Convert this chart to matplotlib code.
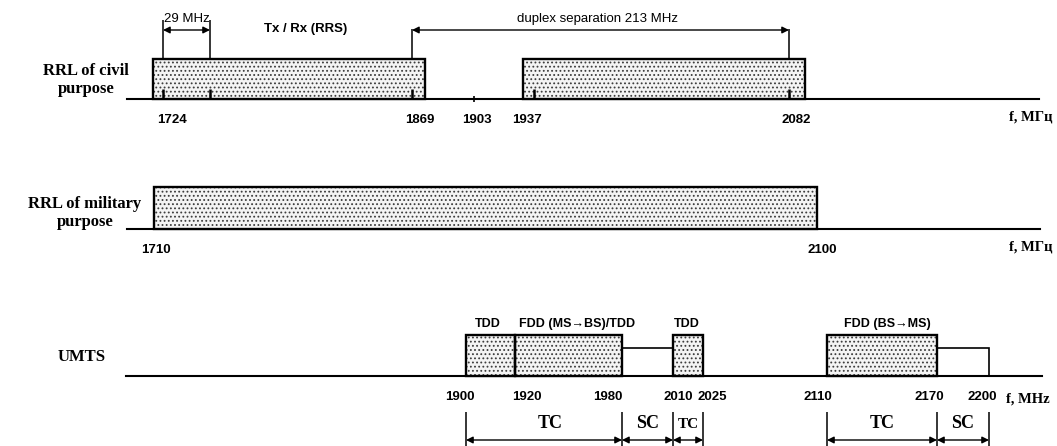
import numpy as np
import matplotlib
matplotlib.use("Agg")
import matplotlib.pyplot as plt

# ---------------- data (MHz) ----------------
civil_band_lo = [1718, 1931]
civil_band_hi = [1876, 2091]
civil_ticks = [1724, 1753, 1869, 1937, 2082]
civil_tick_labels = ["1724", "", "1869", "1937", "2082"]
civil_mark = [1903]
civil_mark_labels = ["1903"]
channel_lo, channel_hi = 1724, 1753            # 29 MHz channel
duplex_lo, duplex_hi = 1869, 2082              # duplex separation 213 MHz
txrx_label_f = 1808

military_band_lo = [1710]
military_band_hi = [2100]
military_ticks = [1710, 2100]

umts_ticks = [1900, 1920, 1980, 2010, 2025, 2110, 2170, 2200]
umts_band_lo = [1900, 1920, 2010, 2110]
umts_band_hi = [1920, 1980, 2025, 2170]
umts_band_names = ["TDD", "FDD (MS→BS)/TDD", "TDD", "FDD (BS→MS)"]
umts_sc_lo = [1980, 2170]
umts_sc_hi = [2010, 2200]
umts_group_lo = [1900, 1980, 2010, 2110, 2170]
umts_group_hi = [1980, 2010, 2025, 2170, 2200]
umts_group_names = ["TC", "SC", "TC", "TC", "SC"]

# ---------------- layout (pixels) ----------------
W, H = 1057, 446
# schematic (non-linear) frequency axes: anchor frequency -> pixel
ROW1_F, ROW1_P = [1724, 1753, 1869, 1903, 1937, 2082], [163, 210, 412, 474, 534, 789]
ROW2_F, ROW2_P = [1710, 2100], [154, 817]
ROW3_F, ROW3_P = umts_ticks, [466, 515, 622, 673, 703, 827, 937, 989]

SANS = ["Liberation Sans", "DejaVu Sans"]
SERIF = ["Liberation Serif", "DejaVu Serif"]
FILL = "#f4f4f4"
DOTS = "#3c3c3c"
plt.rcParams["hatch.linewidth"] = 0.8

fig = plt.figure(figsize=(W / 100, H / 100), dpi=100)
fig.patch.set_facecolor("white")


def make_scale(F, P):
    F = np.asarray(F, float)
    P = np.asarray(P, float)
    s0 = (P[1] - P[0]) / (F[1] - F[0])
    s1 = (P[-1] - P[-2]) / (F[-1] - F[-2])

    def fwd(x):
        x = np.asarray(x, float)
        return np.where(x < F[0], P[0] + (x - F[0]) * s0,
                        np.where(x > F[-1], P[-1] + (x - F[-1]) * s1, np.interp(x, F, P)))

    def inv(p):
        p = np.asarray(p, float)
        return np.where(p < P[0], F[0] + (p - P[0]) / s0,
                        np.where(p > P[-1], F[-1] + (p - P[-1]) / s1, np.interp(p, P, F)))
    return fwd, inv


def row_axes(F, P):
    fwd, inv = make_scale(F, P)
    ax = fig.add_axes([0, 0, 1, 1])
    ax.set_xscale("function", functions=(fwd, inv))
    ax.set_xlim(float(inv(0)), float(inv(W)))
    ax.set_ylim(H, 0)
    ax.axis("off")
    ax.patch.set_visible(False)
    return ax


# overlay in pixel coordinates for layout elements
px = fig.add_axes([0, 0, 1, 1])
px.set_xlim(0, W)
px.set_ylim(H, 0)
px.axis("off")


def band(ax, lo, hi, top, base, filled=True, lw=1.7):
    w = np.asarray(hi) - np.asarray(lo)
    if filled:
        ax.bar(lo, base - top, width=w, bottom=top, align="edge",
               color=FILL, edgecolor=DOTS, linewidth=0, hatch="....", zorder=2)
    ax.bar(lo, base - top, width=w, bottom=top, align="edge",
           facecolor="none", edgecolor="black", linewidth=lw, zorder=3)


def num_label(ax, f, y, text, dx):
    ax.annotate(text, xy=(f, y), xytext=(dx, 0), textcoords="offset pixels",
                ha="center", va="center", fontsize=9.5, fontweight="bold", family=SANS)


def darrow(ax, f1, f2, y, lw=1.0):
    ax.annotate("", xy=(f2, y), xytext=(f1, y),
                arrowprops=dict(arrowstyle="<|-|>", color="black", lw=lw,
                                mutation_scale=10, shrinkA=0, shrinkB=0))


# ---------------- row 1: civil RRL ----------------
B1, T1, L1 = 99, 59, 120
px.plot([127, 1039], [B1, B1], color="black", lw=1.5, zorder=1)
ax1 = row_axes(ROW1_F, ROW1_P)
band(ax1, civil_band_lo, civil_band_hi, T1, B1)
ax1.vlines(civil_ticks, B1 - 10, B1, color="black", lw=1.8, zorder=4)
ax1.vlines(civil_mark, B1 - 3, B1 + 3, color="black", lw=1.2, zorder=4)
for f, t, dx in zip(civil_ticks + civil_mark, civil_tick_labels + civil_mark_labels,
                    [9, 0, 8, -7, 7, 3]):
    if t:
        num_label(ax1, f, L1, t, dx)
# 29 MHz channel
ax1.vlines([channel_lo, channel_hi], 20, T1, color="black", lw=1.1, zorder=4)
darrow(ax1, channel_lo, channel_hi, 30)
ax1.text((channel_lo + channel_hi) / 2, 19, f"{channel_hi - channel_lo} MHz",
         ha="center", va="center", fontsize=9.5, family=SANS,
         bbox=dict(facecolor="white", edgecolor="none", pad=0.2))
ax1.text(txrx_label_f, 29, "Tx / Rx (RRS)", ha="center", va="center",
         fontsize=9.5, fontweight="bold", family=SANS)
# duplex separation
ax1.vlines([duplex_lo, duplex_hi], 29, T1, color="black", lw=1.1, zorder=4)
darrow(ax1, duplex_lo, duplex_hi, 30)
ax1.annotate(f"duplex separation {duplex_hi - duplex_lo} MHz", xy=((duplex_lo + duplex_hi) / 2, 19),
             xytext=(-4, 0), textcoords="offset pixels", ha="center", va="center",
             fontsize=9.5, family=SANS)
px.text(86, 80, "RRL of civil\npurpose", ha="center", va="center", fontsize=12,
        fontweight="bold", family=SERIF, linespacing=1.15)
px.text(1031, 117, "f, МГц", ha="center", va="center", fontsize=10.5,
        fontweight="bold", family=SERIF)

# ---------------- row 2: military RRL ----------------
B2, T2, L2 = 229, 187, 250
px.plot([127, 1040], [B2, B2], color="black", lw=1.5, zorder=1)
ax2 = row_axes(ROW2_F, ROW2_P)
band(ax2, military_band_lo, military_band_hi, T2, B2)
for f, dx in zip(military_ticks, [2, 5]):
    num_label(ax2, f, L2, str(f), dx)
px.text(85, 213, "RRL of military\npurpose", ha="center", va="center", fontsize=12,
        fontweight="bold", family=SERIF, linespacing=1.1)
px.text(1031, 247, "f, МГц", ha="center", va="center", fontsize=10.5,
        fontweight="bold", family=SERIF)

# ---------------- row 3: UMTS ----------------
B3, T3, S3, L3 = 376, 335, 348, 397
px.plot([126, 1042], [B3, B3], color="black", lw=1.5, zorder=1)
ax3 = row_axes(ROW3_F, ROW3_P)
band(ax3, umts_band_lo, umts_band_hi, T3, B3)
band(ax3, umts_sc_lo, umts_sc_hi, S3, B3, filled=False, lw=1.2)
for lo, hi, name, dx in zip(umts_band_lo, umts_band_hi, umts_band_names, [-3, 9, -1, 5]):
    ax3.annotate(name, xy=((lo + hi) / 2, 324), xytext=(dx, 0), textcoords="offset pixels",
                 ha="center", va="center", fontsize=9, fontweight="bold", family=SANS)
for f, dx in zip(umts_ticks, [-6, 12, -14, 5, 9, -9, -8, -7]):
    num_label(ax3, f, L3, str(f), dx)
edges = sorted(set(umts_group_lo + umts_group_hi))
ax3.vlines(edges, 412, H, color="black", lw=1.1)
for lo, hi, name in zip(umts_group_lo, umts_group_hi, umts_group_names):
    darrow(ax3, lo, hi, 440)
    narrow = (hi - lo) < 20
    ax3.text((lo + hi) / 2, 424, name, ha="center", va="center",
             fontsize=11 if narrow else 13, fontweight="bold", family=SERIF)
px.text(82, 357, "UMTS", ha="center", va="center", fontsize=12,
        fontweight="bold", family=SERIF)
px.text(1028, 399, "f, MHz", ha="center", va="center", fontsize=10.5,
        fontweight="bold", family=SERIF)

fig.savefig("out.png", dpi=100, facecolor="white")
